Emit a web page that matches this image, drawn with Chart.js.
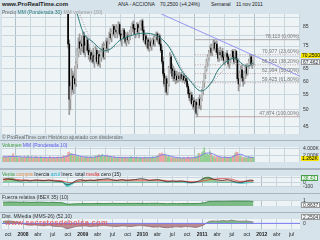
<!DOCTYPE html>
<html lang="es">
<head>
<meta charset="utf-8">
<title>ANA - ACCIONA semanal</title>
<script src="https://cdn.jsdelivr.net/npm/chart.js@4.4.1/dist/chart.umd.min.js"></script>
<style>
  html, body { margin: 0; padding: 0; }
  body { width: 320px; height: 240px; position: relative; overflow: hidden; background: #a9b6bf; font-family: "Liberation Sans", Arial, sans-serif; }
  .box { position: absolute; left: 0; width: 320px; }
  .box canvas { display: block; background: #d6e3eb; }
  #head { top: 0; height: 8px; background: #d6e3eb; font-size: 5px; color: #222; }
  #head span { position: absolute; top: 1.5px; white-space: nowrap; line-height: 5px; }
  .tag { position: absolute; left: 2px; font-size: 5px; line-height: 5px; white-space: nowrap; color: #666; }
  .val { position: absolute; left: 301px; height: 5px; line-height: 5px; font-size: 5px; padding: 0 1px; white-space: nowrap; }
  #mark { position: absolute; left: 5px; top: 219px; font-size: 7.5px; line-height: 8px; font-weight: bold; letter-spacing: 0.3px; color: rgba(225, 80, 80, 0.8); white-space: nowrap; }
</style>
</head>
<body>
<div id="head" class="box">
  <span style="left:2px;top:1px;font-size:6px;line-height:6px;font-weight:bold">www.ProRealTime.com</span>
  <span style="left:118px">ANA - ACCIONA</span>
  <span style="left:160px">70,2500 (+4,24%)</span>
  <span style="left:211px">Semanal</span>
  <span style="left:236px">11 nov 2011</span>
</div>
<div class="box" style="top:8px"><canvas id="cPrice" width="320" height="132"></canvas></div>
<div class="box" style="top:141px"><canvas id="cVol" width="320" height="27"></canvas></div>
<div class="box" style="top:170px"><canvas id="cOsc" width="320" height="23"></canvas></div>
<div class="box" style="top:194px"><canvas id="cRel" width="320" height="18"></canvas></div>
<div class="box" style="top:213px"><canvas id="cDist" width="320" height="27"></canvas></div>

<div class="tag" style="top:10px">Precio <span style="color:#2a7a7a">MM (Ponderada 30)</span> <span style="color:#999">MM volumen (30)</span></div>
<div class="tag" style="top:135px">© ProRealTime.com Histórico ajustado con dividendos</div>
<div class="tag" style="top:143px"><span style="color:#3a9a3a">Volumen</span> <span style="color:#5a5aee">MM (Ponderada 10)</span></div>
<div class="tag" style="top:172px;color:#222"><span style="color:#3a9a3a">Venta</span> <span style="color:#e0904a">compra</span> Inercia <span style="color:#20b0c8">azul</span> Inerc. total <span style="color:#e03030">media</span> cero (15)</div>
<div class="tag" style="top:195px;color:#333">Fuerza relativa (IBEX 35) (10)</div>
<div class="tag" style="top:214px;color:#333">Dist. MMedia (MMS-26) (52,10)</div>
<div id="mark">www.secretosdebolsa.com</div>

<div class="val" style="top:53px;background:#f2e400;color:#000">70,2500</div>
<div class="val" style="top:59px;background:#eef3f6;border:1px solid #999;height:4px;line-height:4px;color:#333">67,462</div>
<div class="val" style="top:156px;background:#f2e400;color:#000">1.262K</div>
<div class="val" style="top:175px;background:#eef8ee;border:1px solid #4aa04a;height:4px;line-height:4px;color:#3a9a3a">38,43</div>
<div class="val" style="top:202px;background:#f4f7f9;border:1px solid #999;height:4px;line-height:4px;color:#333">0,8637</div>
<div class="val" style="top:214px;background:#f4f7f9;border:1px solid #999;height:4px;line-height:4px;color:#333">2,2504</div>

<script>
// Eje temporal: etiquetas trimestrales de oct 2007 a jul 2012
const xTickLabels = ["oct", "2008", "abr", "jul", "oct", "2009", "abr", "jul", "oct", "2010",
  "abr", "jul", "oct", "2011", "abr", "jul", "oct", "2012", "abr", "jul"];

// Velas semanales desde el 3 oct 2008 (antes el precio queda por encima del gráfico)
const candleOpen = [105, 76, 53.5, 58, 62, 57, 61, 59, 67, 72, 77, 74, 76, 75, 80, 72, 75, 78, 73, 71,
  72, 69, 70.5, 68, 70, 73, 68, 71, 67, 70, 72, 74, 70, 75, 77, 74, 77, 81, 79, 82,
  85, 81, 83, 82, 84, 86, 81, 78, 80, 83, 79, 77, 80, 78, 80, 82, 84, 86, 84, 81,
  83, 86, 82, 84, 87, 88, 83, 78, 80, 76, 78, 74, 77, 75, 77, 78, 76, 79, 81, 78,
  80, 76, 73, 68, 63, 59, 61, 56, 59, 65, 70, 65, 62, 64, 61, 62, 60.5, 62, 61, 62.5,
  61, 62, 60.5, 61, 60, 58, 55.5, 54, 55, 52, 53, 51, 52.5, 49, 51.5, 53.5, 51.5, 53.5, 56.5, 59.5,
  62.5, 65, 68, 70, 72, 74, 72, 75, 76.5, 74, 76, 72, 69.5, 72, 71, 72.5, 70, 68.5, 70, 71.5,
  70, 67, 68.5, 70.5, 72.5, 70, 68, 72.5, 69, 61, 59, 63, 64.5, 61.5, 60, 63, 65.5, 63, 66.5, 68,
  70, 67, 67.4];
const candleHigh = [108, 78, 60, 65, 64, 63, 66, 68, 74, 79, 81, 78, 80, 82, 82, 77, 80, 79, 76, 74,
  73, 72, 74, 71, 75, 74, 72, 73, 71, 74, 76, 77, 76, 78, 79, 78, 82, 84, 83, 86,
  86, 84, 86, 85, 87.5, 87, 83, 81, 84, 84, 82, 81, 82, 81, 83, 85, 87, 88, 86, 84,
  87, 87, 85, 88, 88.5, 89, 85, 81, 81, 79, 79, 78, 79, 78, 79, 80, 80, 82, 82, 81,
  81, 78, 75, 70, 65, 62, 62, 60, 66, 72, 71, 67, 66, 65, 63, 64, 63, 63.5, 63, 63.5,
  62.5, 63, 62, 62, 61, 59, 57, 56, 56, 54, 54, 53, 53.5, 52, 54, 55, 54, 57, 60, 63,
  66, 69, 71, 73, 75, 76, 75.5, 78.1, 78, 77, 77.5, 74, 73, 74.5, 73, 74, 71.5, 71, 72, 73,
  71, 69, 71, 73, 73.5, 71.5, 73.5, 73, 69.5, 63, 64, 66, 66.5, 63, 64, 66, 67, 67, 69, 71,
  71.2, 68.5, 70.8];
const candleLow = [74, 48.5, 50, 55, 56, 55.5, 58, 58, 65, 70, 72, 71, 73, 72, 71, 70, 73, 72, 69, 68,
  68, 67.5, 67, 65.5, 69, 67, 66, 66.5, 65.5, 68, 70, 69, 69, 72, 73, 72, 76, 78, 77, 80,
  80, 79, 81, 79, 82, 80, 77, 75, 79, 78, 76, 75, 77, 76, 78, 80, 82, 83, 80, 79,
  82, 81, 79, 83, 85, 82, 77, 76, 75, 74, 73, 72.5, 74, 73, 75, 75, 75, 78, 77, 76,
  75, 72, 67, 62, 58, 56, 55, 55, 58, 63, 64, 61, 60, 60, 59, 59.5, 59.5, 60, 60, 60.5,
  59.5, 60, 59, 59.5, 57.5, 55, 53, 52.5, 51.5, 50.5, 50, 49.5, 48.5, 47.9, 50.5, 50.5, 50, 53, 55, 58,
  61, 64, 66, 68.5, 70.5, 71, 70.5, 73, 73, 72, 71, 68, 68, 70, 68.5, 69, 67, 66.5, 68, 69,
  66, 65, 67.5, 69.5, 69, 67, 67.5, 68, 60, 56.4, 58, 61, 60, 58.1, 59, 61, 62, 62.5, 65, 66.5,
  66, 65, 66.5];
const candleClose = [76, 53.5, 58, 62, 57, 61, 59, 67, 72, 77, 74, 76, 75, 80, 72, 75, 78, 73, 71, 72,
  69, 70.5, 68, 70, 73, 68, 71, 67, 70, 72, 74, 70, 75, 77, 74, 77, 81, 79, 82, 85,
  81, 83, 82, 84, 86, 81, 78, 80, 83, 79, 77, 80, 78, 80, 82, 84, 86, 84, 81, 83,
  86, 82, 84, 87, 88, 83, 78, 80, 76, 78, 74, 77, 75, 77, 78, 76, 79, 81, 78, 80,
  76, 73, 68, 63, 59, 61, 56, 59, 65, 70, 65, 62, 64, 61, 62, 60.5, 62, 61, 62.5, 61,
  62, 60.5, 61, 60, 58, 55.5, 54, 55, 52, 53, 51, 52.5, 49, 51.5, 53.5, 51.5, 53.5, 56.5, 59.5, 62.5,
  65, 68, 70, 72, 74, 72, 75, 76.5, 74, 76, 72, 69.5, 72, 71, 72.5, 70, 68.5, 70, 71.5, 70,
  67, 68.5, 70.5, 72.5, 70, 68, 72.5, 69, 61, 59, 63, 64.5, 61.5, 60, 63, 65.5, 63, 66.5, 68, 70,
  67, 67.4, 70.25];

// Media ponderada 30 (verde azulado) y media de volumen 30 (punteada), por índice de vela
const maIdx = [3, 8, 13, 22, 28, 32, 37, 45, 54, 66, 78, 87, 91, 98, 106, 116, 120, 126, 131, 140, 146, 152, 157, 162];
const maVal = [104, 92, 82, 76.8, 73.7, 72.8, 73.6, 77.7, 80, 81.4, 80, 75.5, 72, 65, 60.5, 56.4, 57, 60, 64.4, 68.4, 69.5, 67, 66, 67.46];
const vwIdx = [6, 12, 28, 36, 50, 66, 80, 90, 100, 110, 118, 126, 135, 145, 155, 162];
const vwVal = [100, 88.8, 72.4, 73.5, 77, 80.5, 79, 73.5, 64.5, 59, 57.5, 59.5, 64, 67.5, 66, 66.8];

// Directriz bajista (dos puntos: año, precio)
const trendX = [2010.127, 2012.64];
const trendY = [95, 61.9];

// Retrocesos de Fibonacci
const fibValues = [78.113, 70.977, 66.562, 62.994, 59.425, 47.874];
const fibPercents = [0, 23.6, 38.2, 50, 61.8, 100];

const priceTicks = [45, 50, 55, 60, 65, 70, 75, 80, 85, 90];
const priceLabels = [45, 50, 55, 60, 65, 75, 85];

// Volumen semanal (miles) desde el 31 ago 2007
const volumes = [1500, 1700, 1300, 1600, 1400, 1800, 1300, 1500, 1700, 2500,
  1600, 1400, 1800, 1300, 1200, 1600, 1500, 1100, 1400, 1700,
  1300, 1500, 1900, 1200, 1400, 1600, 1100, 1300, 1500, 1700,
  1200, 1000, 1400, 1600, 1300, 1100, 1500, 1200, 1400, 1000,
  1300, 1700, 1100, 1200, 1500, 1300, 1000, 1400, 1600, 1200,
  1100, 1300, 1500, 1800, 1400, 1600, 2000, 2800, 3000, 2400,
  2600, 2100, 1900, 2300, 1800, 1500, 1700, 1300, 1600, 1400,
  1200, 1500, 1300, 1700, 1400, 1100, 1600, 1300, 1500, 1200,
  1400, 1800, 1600, 2000, 2200, 1700, 1900, 2300, 1500, 1800,
  1600, 2100, 1400, 1700, 1300, 1500, 1200, 1600, 1400, 1100,
  1300, 1500, 1200, 1000, 1400, 1300, 1100, 1500, 1200, 1400,
  1000, 1300, 1600, 1200, 1100, 1400, 1300, 1500, 1000, 1200,
  1400, 1100, 1300, 1200, 1500, 1000, 1300, 1100, 1400, 1200,
  1300, 1600, 1200, 1400, 1500, 1800, 2100, 2600, 2300, 2700,
  2200, 1900, 2400, 1700, 1500, 2000, 1300, 1200, 1500, 1100,
  1300, 1000, 1400, 1200, 1100, 1300, 900, 1200, 1400, 1000,
  1100, 1300, 1500, 1200, 1000, 1400, 1100, 1300, 1600, 1200,
  1800, 2600, 2500, 1900, 2800, 3200, 4300, 2700, 2200, 2400,
  2000, 3100, 2600, 1800, 1500, 1700, 1300, 1600, 1400, 1200,
  1500, 1300, 1100, 1400, 1600, 1200, 1300, 1500, 1100, 1400,
  1300, 1700, 2000, 2600, 3000, 2900, 2200, 1600, 1800, 1300,
  1500, 1200, 1400, 1100, 1300, 1600, 1200, 1400, 1500, 1262];
// Semanas alcistas (u) / bajistas (d) antes de la primera vela visible
const preDir = "uddudduudduduuddududduudduddududduuddudduddudduddududdudd";

// Indicadores: un valor cada 4 semanas
const volMa = [1550, 1580, 1700, 1650, 1500, 1450, 1450, 1420, 1380, 1330, 1300, 1300, 1320, 1400,
  1750, 2300, 2100, 1700, 1450, 1400, 1450, 1750, 1900, 1750, 1500, 1350, 1300, 1300, 1300, 1300,
  1250, 1250, 1280, 1350, 1700, 2200, 2000, 1600, 1300, 1200, 1220, 1250, 1300, 1700,
  2500, 2700, 2400, 1700, 1400, 1350, 1450, 2100, 2300, 1700, 1400, 1350];
const oscSalmon = [60, 90, 80, 50, 40, 50, 35, 45, 55, 40, 50, 45, 35, 20, -40, -20, 30, 45, 60, 40,
  50, 55, 45, 60, 50, 40, 55, 45, 50, 60, 45, 40, 50, 55, 45, 50, 30, 10, 20, 30,
  25, 10, 0, 15, 80, 95, 70, 50, 45, 40, 30, 20, 10, 25, 40, 45];
const oscGreen = [0, 70, 100, 40, 0, 0, 0, 0, 0, 0, 0, 0, 0, 0, -90, -40, 0, 0, 0, 0,
  0, 0, 0, 0, 0, 0, 0, 0, 0, 0, 0, 0, 0, 0, 0, 0, 0, 0, 0, 0,
  0, 0, 0, 0, 110, 120, 60, 0, 0, 0, 0, 0, 0, 0, 0, 0];
const oscCyan = [0, 0, 0, 0, 0, 0, 0, 0, 0, 0, 0, 0, 0, 0, -100, -60, 0, 0, 0, 0,
  0, 0, 0, 0, 0, 0, 0, 0, 0, 0, 0, 0, 0, 0, 0, 0, 0, 0, 0, 0,
  -15, -20, -10, 0, 0, 0, 0, 0, 0, 0, 0, -20, -30, -25, -10, 0];
const oscRed = [60, 65, 70, 65, 55, 50, 45, 45, 45, 45, 45, 45, 40, 30, 0, -10, 10, 30, 40, 45,
  45, 50, 50, 50, 50, 50, 50, 50, 50, 50, 50, 50, 50, 50, 45, 40, 30, 25, 25, 20,
  15, 10, 10, 15, 35, 55, 65, 80, 85, 80, 70, 40, 20, 20, 25, 30];
const oscBlack = [70, 80, 60, 40, 30, 45, 30, 50, 40, 35, 50, 30, 20, 10, -60, -30, 40, 60, 30, 50,
  40, 60, 70, 80, 50, 40, 60, 40, 50, 60, 80, 70, 40, 50, 60, 30, 10, 30, 20, 30,
  10, -10, 0, 40, 90, 100, 70, 50, 40, 60, 30, 0, -10, 20, 50, 38.4];
const relStrength = [0.74, 0.76, 0.78, 0.75, 0.72, 0.74, 0.7, 0.72, 0.74, 0.7, 0.68, 0.7, 0.66, 0.64,
  0.36, 0.38, 0.42, 0.44, 0.46, 0.45, 0.47, 0.48, 0.46, 0.48, 0.5, 0.49, 0.47, 0.5, 0.49, 0.51,
  0.5, 0.48, 0.5, 0.52, 0.5, 0.46, 0.44, 0.46, 0.45, 0.47, 0.46, 0.48, 0.46, 0.5,
  0.62, 0.88, 0.9, 0.92, 0.9, 0.93, 0.94, 0.96, 0.94, 0.95, 0.93, 0.8637];
const distMedia = [3, 4, 3.5, 2, 0.5, -2, -3, -2.5, -3.5, -4, -3, -4.5, -5, -5.5, -8.5, -7,
  -5, -4.5, -4, -5, -4.5, -4, -3.5, -4, -4.5, -5, -4, -4.5, -5, -4, -3.5,
  -4, -5, -6, -5.5, -6.5, -7, -6, -5.5, -6, -5, -5.5, -6.5, -5,
  -2, 3, 4, 3.5, 4.5, 4, 5, 4, 3.5, 4, 3, 2.25];

const X_MIN = 2007.648;
const X_MAX = 2012.64;
const FIRST_WEEK = 2007.663;
const WEEK = 7 / 365.25;
const FIRST_CANDLE = 57;
const LAST_WEEK = volumes.length - 1;
const FIB_START = 2010.88;
const FONT = '"Liberation Sans", Arial, sans-serif';
const PLOT_BG = "#eef3f6";
const GRID = "#cad6dd";
const GRID_YEAR = "#b2c0c9";

const weekX = (k) => FIRST_WEEK + k * WEEK;
const candleX = (i) => weekX(FIRST_CANDLE + i);
const indX = (j) => weekX(Math.min(j * 4, LAST_WEEK));
const comma = (v, d) => v.toFixed(d).replace(".", ",");

// Fondo blanco azulado del área de trazado
const plotBg = {
  id: "plotBg",
  beforeDraw(chart) {
    const { ctx, chartArea: a } = chart;
    ctx.save();
    ctx.fillStyle = PLOT_BG;
    ctx.fillRect(a.left, a.top, a.right - a.left, a.bottom - a.top);
    ctx.restore();
  },
};

// Textos de los niveles de Fibonacci sobre cada línea
const fibText = {
  id: "fibText",
  afterDatasetsDraw(chart) {
    const { ctx, chartArea: a, scales } = chart;
    ctx.save();
    ctx.font = "5px " + FONT;
    ctx.fillStyle = "#777";
    ctx.textAlign = "right";
    ctx.textBaseline = "bottom";
    fibValues.forEach((v, n) => {
      const y = scales.y.getPixelForValue(v);
      ctx.fillText(comma(v, 3) + " (" + comma(fibPercents[n], 2) + "%)", a.right - 1, y - 0.5);
    });
    ctx.restore();
  },
};

function xAxis(showLabels) {
  return {
    type: "linear",
    min: X_MIN,
    max: X_MAX,
    offset: false,
    afterBuildTicks: (s) => {
      s.ticks = xTickLabels.map((_, k) => ({ value: 2007.75 + k * 0.25 }));
    },
    afterFit: (s) => {
      s.height = showLabels ? 11 : 0;
    },
    grid: { drawTicks: false, color: (c) => (c.index % 4 === 1 ? GRID_YEAR : GRID) },
    border: { display: false },
    ticks: {
      display: showLabels,
      autoSkip: false,
      maxRotation: 0,
      padding: 3,
      color: "#222",
      font: (c) => ({ family: FONT, size: 5, weight: c.index % 4 === 1 ? "bold" : "normal" }),
      callback: (v, k) => xTickLabels[k],
    },
  };
}

function yAxis(type, min, max, tickValues, label) {
  return {
    type,
    min,
    max,
    position: "right",
    afterFit: (s) => {
      s.width = 20;
    },
    afterBuildTicks: (s) => {
      s.ticks = tickValues.map((value) => ({ value }));
    },
    grid: { drawTicks: false, color: GRID },
    border: { display: false },
    ticks: { autoSkip: false, padding: 3, color: "#333", font: { family: FONT, size: 5 }, callback: label },
  };
}

function baseOptions(scales, padTop) {
  return {
    responsive: false,
    animation: false,
    devicePixelRatio: 1,
    events: [],
    layout: { padding: { left: 2, right: 0, top: padTop, bottom: 0 } },
    plugins: { legend: { display: false }, tooltip: { enabled: false } },
    scales,
  };
}

function lineSet(points, color, width, extra) {
  return Object.assign(
    { type: "line", data: points, borderColor: color, borderWidth: width, pointRadius: 0, cubicInterpolationMode: "monotone", fill: false },
    extra
  );
}

const indPoints = (arr) => arr.map((v, j) => ({ x: indX(j), y: v }));

function weekUp(k) {
  if (k < FIRST_CANDLE) return preDir[k] === "u";
  const i = k - FIRST_CANDLE;
  return candleClose[i] >= candleOpen[i];
}

// Gráfico principal de precio
function createPriceChart() {
  const wicks = {
    type: "bar",
    data: candleLow.map((lo, i) => ({ x: candleX(i), y: [lo, candleHigh[i]] })),
    backgroundColor: "#9a9a9a",
    barThickness: 1,
    grouped: false,
    order: 5,
  };
  const bodies = {
    type: "bar",
    data: candleOpen.map((op, i) => ({ x: candleX(i), y: [op, candleClose[i]] })),
    backgroundColor: candleOpen.map((op, i) => (candleClose[i] < op ? "#000000" : "#c4c4c4")),
    barThickness: 1,
    grouped: false,
    order: 4,
  };
  const fibSets = fibValues.map((v, n) =>
    lineSet(
      [{ x: FIB_START, y: v }, { x: X_MAX, y: v }],
      n === 0 ? "#9a9a9a" : "#b39494",
      0.8,
      { borderDash: n === 0 || n === fibValues.length - 1 ? [] : [1, 1.5], order: 7 }
    )
  );
  const trend = lineSet(trendX.map((x, n) => ({ x, y: trendY[n] })), "#8c8cf2", 0.9, { order: 1 });
  const ma = lineSet(maIdx.map((i, n) => ({ x: candleX(i), y: maVal[n] })), "#2a7a7a", 1, { order: 2 });
  const vw = lineSet(vwIdx.map((i, n) => ({ x: candleX(i), y: vwVal[n] })), "#8a8a8a", 0.8, { borderDash: [1, 1.5], order: 3 });

  new Chart(document.getElementById("cPrice"), {
    type: "bar",
    data: { datasets: [trend, ma, vw, bodies, wicks, ...fibSets] },
    options: baseOptions(
      {
        x: xAxis(false),
        y: yAxis("logarithmic", 42.9, 91.95, priceTicks, (v) => (priceLabels.includes(v) ? String(v) : "")),
      },
      1
    ),
    plugins: [plotBg, fibText],
  });
}

function createVolumeChart() {
  new Chart(document.getElementById("cVol"), {
    type: "bar",
    data: {
      datasets: [
        lineSet(indPoints(volMa), "#7a7af0", 0.9, { order: 1 }),
        {
          type: "bar",
          data: volumes.map((v, k) => ({ x: weekX(k), y: v })),
          backgroundColor: volumes.map((_, k) => (weekUp(k) ? "#93cf93" : "#eba3a3")),
          barThickness: 1,
          order: 2,
        },
      ],
    },
    options: baseOptions(
      {
        x: xAxis(false),
        y: yAxis("linear", 0, 4500, [2000, 4000], (v) => String(v).replace(/\B(?=(\d{3})+$)/, ".") + "K"),
      },
      0
    ),
    plugins: [plotBg],
  });
}

function createOscChart() {
  new Chart(document.getElementById("cOsc"), {
    type: "line",
    data: {
      datasets: [
        lineSet(indPoints(oscBlack), "#222222", 0.7, { order: 1 }),
        lineSet(indPoints(oscRed), "#e03030", 0.7, { order: 2 }),
        lineSet(indPoints(oscCyan), "#2fb8c8", 0.5, { fill: "origin", backgroundColor: "rgba(90, 220, 232, 0.75)", order: 3 }),
        lineSet(indPoints(oscGreen), "#3c9a4c", 0.5, { fill: "origin", backgroundColor: "rgba(120, 205, 120, 0.65)", order: 4 }),
        lineSet(indPoints(oscSalmon), "#e59a80", 0.6, { fill: "origin", backgroundColor: "rgba(245, 175, 145, 0.55)", order: 5 }),
      ],
    },
    options: baseOptions(
      {
        x: xAxis(false),
        y: yAxis("linear", -111, 144, [-100, 0, 100], (v) => (v === 100 ? "" : String(v))),
      },
      0
    ),
    plugins: [plotBg],
  });
}

function createRelChart() {
  new Chart(document.getElementById("cRel"), {
    type: "line",
    data: {
      datasets: [
        lineSet(indPoints(relStrength), "#2f7a40", 0.8, { fill: "origin", backgroundColor: "#7dbb86", cubicInterpolationMode: "default" }),
      ],
    },
    options: baseOptions({ x: xAxis(false), y: yAxis("linear", 0, 1.15, [1], (v) => String(v)) }, 0),
    plugins: [plotBg],
  });
}

function createDistChart() {
  new Chart(document.getElementById("cDist"), {
    type: "line",
    data: {
      datasets: [
        lineSet([{ x: X_MIN, y: 0 }, { x: X_MAX, y: 0 }], "#6f6ff5", 0.9, { order: 1 }),
        lineSet(indPoints(distMedia), "#7a5a60", 0.6, {
          fill: { target: "origin", above: "#7dbb86", below: "#b98a92" },
          order: 2,
        }),
      ],
    },
    options: baseOptions({ x: xAxis(true), y: yAxis("linear", -9, 7, [0], (v) => String(v)) }, 0),
    plugins: [plotBg],
  });
}

createPriceChart();
createVolumeChart();
createOscChart();
createRelChart();
createDistChart();
</script>
</body>
</html>
